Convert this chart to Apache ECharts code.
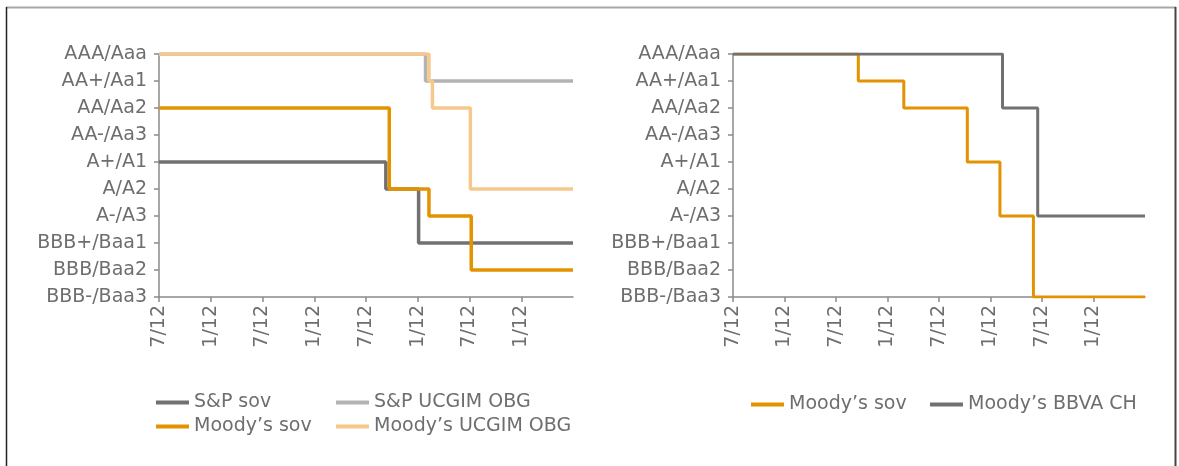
<!DOCTYPE html>
<html>
<head>
<meta charset="utf-8">
<script src="https://cdn.jsdelivr.net/npm/echarts@6/dist/echarts.min.js"></script>
<style>
html,body{margin:0;padding:0;background:#fff;}
#chart{width:1179px;height:466px;}
</style>
</head>
<body>
<div id="chart"></div>
<script>
const ratings = ['BBB-/Baa3','BBB/Baa2','BBB+/Baa1','A-/A3','A/A2','A+/A1','AA-/Aa3','AA/Aa2','AA+/Aa1','AAA/Aaa'];
const xTickMonths = [0, 6, 12, 18, 24, 30, 36, 42];
const xTickLabels = ['7/12', '1/12', '7/12', '1/12', '7/12', '1/12', '7/12', '1/12'];
const xMax = 48;

const spSovMonths = [0, 26.3, 30.1, 48];
const spSovRatings = ['A+/A1', 'A/A2', 'BBB+/Baa1', 'BBB+/Baa1'];
const spObgMonths = [0, 30.9, 48];
const spObgRatings = ['AAA/Aaa', 'AA+/Aa1', 'AA+/Aa1'];
const mSovLMonths = [0, 26.7, 31.3, 36.2, 48];
const mSovLRatings = ['AA/Aa2', 'A/A2', 'A-/A3', 'BBB/Baa2', 'BBB/Baa2'];
const mObgMonths = [0, 31.3, 31.7, 36.1, 48];
const mObgRatings = ['AAA/Aaa', 'AA+/Aa1', 'AA/Aa2', 'A/A2', 'A/A2'];

const mSovRMonths = [0, 14.6, 19.9, 27.3, 31.1, 35.0, 48];
const mSovRRatings = ['AAA/Aaa', 'AA+/Aa1', 'AA/Aa2', 'A+/A1', 'A-/A3', 'BBB-/Baa3', 'BBB-/Baa3'];
const bbvaMonths = [0, 31.4, 35.5, 48];
const bbvaRatings = ['AAA/Aaa', 'AA/Aa2', 'A-/A3', 'A-/A3'];

const FONT = 'DejaVu Sans';
const FS = 19;
const TXT = '#6e6e6e';
const AX = '#8a8a8a';
const C_DARK = '#717171', C_LGRAY = '#b3b3b3', C_ORANGE = '#e39200', C_LORANGE = '#f6c88c';

function pairs(ms, rs) { return ms.map((m, i) => [m, rs[i]]); }

function xAxisCfg(gi) {
  return {
    type: 'value', gridIndex: gi, min: 0, max: xMax, interval: 6,
    axisLine: {show: true, lineStyle: {color: AX, width: 1.5}},
    axisTick: {show: true, length: 5, lineStyle: {color: AX, width: 1.5}, customValues: xTickMonths},
    axisLabel: {
      show: true, rotate: 90, margin: 8, color: TXT, fontFamily: FONT, fontSize: FS,
      formatter: function (v) { const i = xTickMonths.indexOf(v); return i >= 0 ? xTickLabels[i] : ''; }
    },
    splitLine: {show: false}
  };
}
function yAxisCfg(gi) {
  return {
    type: 'category', gridIndex: gi, data: ratings, boundaryGap: false,
    axisLine: {show: true, lineStyle: {color: AX, width: 1.5}},
    axisTick: {show: true, length: 5, alignWithLabel: true, lineStyle: {color: AX, width: 1.5}},
    axisLabel: {color: TXT, fontFamily: FONT, fontSize: FS, margin: 12, interval: 0},
    splitLine: {show: false}
  };
}
function line(name, data, color, gi, w) {
  return {
    name, type: 'line', xAxisIndex: gi, yAxisIndex: gi, data, step: 'start',
    symbol: 'none', lineStyle: {color, width: w}, itemStyle: {color},
    emphasis: {disabled: true}
  };
}
function legend(name, left, top) {
  return {
    data: [name], left, top, icon: 'rect', itemWidth: 33, itemHeight: 4,
    textStyle: {color: TXT, fontFamily: FONT, fontSize: FS}, selectedMode: false
  };
}

const chart = echarts.init(document.getElementById('chart'), null, {renderer: 'canvas'});
chart.setOption({
  animation: false,
  backgroundColor: '#fff',
  grid: [
    {left: 159, top: 54, width: 414, height: 243},
    {left: 733, top: 54, width: 412, height: 243}
  ],
  xAxis: [xAxisCfg(0), xAxisCfg(1)],
  yAxis: [yAxisCfg(0), yAxisCfg(1)],
  legend: [
    legend('S&P sov', 151, 388),
    legend('S&P UCGIM OBG', 331, 388),
    legend('Moody\u2019s sov', 151, 412),
    legend('Moody\u2019s UCGIM OBG', 331, 412),
    legend('Moody\u2019s sov ', 746, 390),
    legend('Moody\u2019s BBVA CH', 925, 390)
  ],
  series: [
    line('S&P sov', pairs(spSovMonths, spSovRatings), C_DARK, 0, 3.5),
    line('S&P UCGIM OBG', pairs(spObgMonths, spObgRatings), C_LGRAY, 0, 3.5),
    line('Moody\u2019s sov', pairs(mSovLMonths, mSovLRatings), C_ORANGE, 0, 3.5),
    line('Moody\u2019s UCGIM OBG', pairs(mObgMonths, mObgRatings), C_LORANGE, 0, 3.5),
    line('Moody\u2019s sov ', pairs(mSovRMonths, mSovRRatings), C_ORANGE, 1, 3),
    line('Moody\u2019s BBVA CH', pairs(bbvaMonths, bbvaRatings), C_DARK, 1, 3)
  ],
  graphic: [
    {type: 'line', shape: {x1: 6, y1: 7.5, x2: 1176, y2: 7.5}, style: {stroke: '#a8a8a8', lineWidth: 2}, silent: true},
    {type: 'line', shape: {x1: 6.5, y1: 7, x2: 6.5, y2: 466}, style: {stroke: '#222', lineWidth: 1.5}, silent: true},
    {type: 'line', shape: {x1: 1175.5, y1: 7, x2: 1175.5, y2: 466}, style: {stroke: '#444', lineWidth: 2}, silent: true}
  ]
});
</script>
</body>
</html>
